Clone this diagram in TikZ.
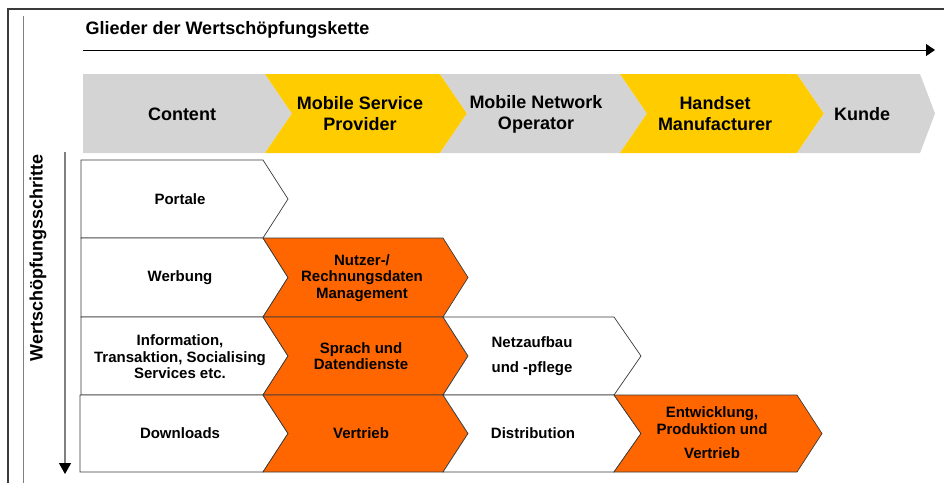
\documentclass[tikz,border=0pt]{standalone}
\usepackage{fontspec}
\setmainfont{Liberation Sans}
\usetikzlibrary{arrows.meta}

\definecolor{bandgrau}{HTML}{D4D4D4}
\definecolor{gelb}{HTML}{FFCC00}
\definecolor{orange}{HTML}{FF6600}
\definecolor{rahmen}{HTML}{3A3A3A}

\tikzset{
    kopf/.style={font=\bfseries\fontsize{18}{21}\selectfont, align=center},
    zelle/.style={font=\bfseries\fontsize{15}{16.5}\selectfont, align=center},
    umriss/.style={draw=rahmen, line width=0.7pt},
}

% Pfeilform: links x, rechts x, oben y, unten y, Kerbe links, Spitze rechts
\newcommand{\pfeilform}[7]{%
    \path[#1] (#2,#4) -- (#3,#4) -- ({#3+#7},{(#4+#5)/2}) -- (#3,#5)
        -- (#2,#5) -- ({#2+#6},{(#4+#5)/2}) -- cycle;}

\begin{document}
\begin{tikzpicture}[x=1pt, y=-1pt]
    \useasboundingbox (0,0) rectangle (944,483);

    % Rahmen
    \draw[rahmen, line width=1.2pt] (8,483) -- (8,9) -- (944,9);
    \draw[gray, line width=1pt] (23,16) -- (23,483);

    % Achse oben
    \node[kopf, anchor=west] (kette) at (82,30) {Glieder der Wertschöpfungskette};
    \draw[-{Triangle[length=9pt,width=12pt]}, line width=1pt] (83,50) -- (935,50);

    % Glieder
    \pfeilform{fill=bandgrau}{83}{265}{74}{153}{0}{27}
    \pfeilform{fill=gelb}{265}{440}{74}{153}{27}{27}
    \pfeilform{fill=bandgrau}{440}{620}{74}{153}{27}{27}
    \pfeilform{fill=gelb}{620}{797}{74}{153}{27}{27}
    \pfeilform{fill=bandgrau}{797}{920}{74}{153}{27}{15}
    \node[kopf] (content) at (182,114) {Content};
    \node[kopf] (msp) at (360,114) {Mobile Service\\Provider};
    \node[kopf] (mno) at (536,114) {Mobile Network\\Operator};
    \node[kopf] (hm) at (715,114) {Handset\\Manufacturer};
    \node[kopf] (kunde) at (862,114) {Kunde};

    % Achse links
    \node[kopf, rotate=90] (schritte) at (38,258) {Wertschöpfungsschritte};
    \draw[gray, line width=1.2pt, -{Triangle[length=11pt,width=12pt,black]}] (65,152) -- (65,474);

    % Schritte
    \pfeilform{umriss, fill=white}{81}{263}{160}{238}{0}{25}
    \pfeilform{umriss, fill=white}{81}{263}{238}{317}{0}{25}
    \pfeilform{umriss, fill=orange}{263}{443}{238}{317}{25}{25}
    \pfeilform{umriss, fill=white}{81}{263}{317}{395}{0}{25}
    \pfeilform{umriss, fill=orange}{263}{443}{317}{395}{25}{25}
    \pfeilform{umriss, fill=white}{443}{614}{317}{395}{25}{27}
    \pfeilform{umriss, fill=white}{80}{263}{395}{472}{0}{25}
    \pfeilform{umriss, fill=orange}{263}{443}{395}{472}{25}{25}
    \pfeilform{umriss, fill=white}{443}{614}{395}{472}{25}{27}
    \pfeilform{umriss, fill=orange}{614}{797}{395}{472}{27}{25}

    \node[zelle] (portale) at (180,199) {Portale};
    \node[zelle] (werbung) at (180,278) {Werbung};
    \node[zelle] (nutzer) at (362,278) {Nutzer-/\\Rechnungsdaten\\Management};
    \node[zelle] (info) at (180,357) {Information,\\Transaktion, Socialising\\Services etc.};
    \node[zelle] (sprach) at (361,356) {Sprach und\\Datendienste};
    \node[zelle] (netz) at (532,356) {Netzaufbau\\[8pt]und -pflege};
    \node[zelle] (downloads) at (180,433) {Downloads};
    \node[zelle] (vertrieb) at (361,433) {Vertrieb};
    \node[zelle] (distribution) at (533,433) {Distribution};
    \node[zelle] (entwicklung) at (712,433) {Entwicklung,\\Produktion und\\[8pt]Vertrieb};
\end{tikzpicture}
\end{document}
